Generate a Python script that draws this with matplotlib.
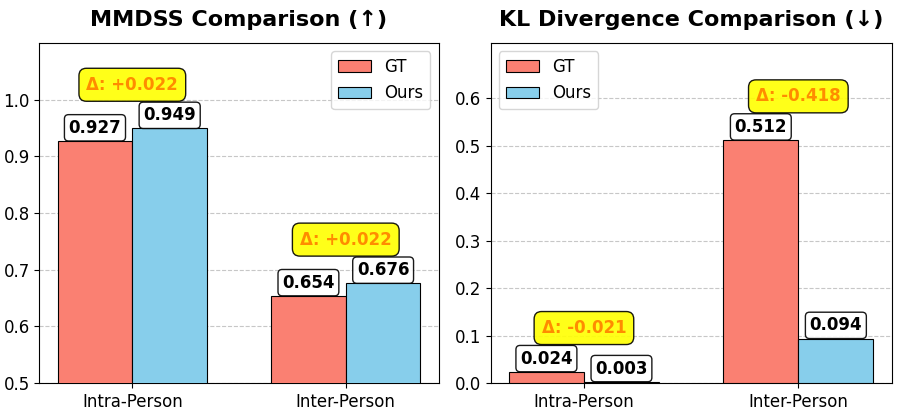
import matplotlib
matplotlib.use("Agg")
import matplotlib.pyplot as plt
import numpy as np

categories = ["Intra-Person", "Inter-Person"]
series_names = ["GT", "Ours"]
mmdss_gt = [0.927, 0.654]
mmdss_ours = [0.949, 0.676]
kl_gt = [0.024, 0.512]
kl_ours = [0.003, 0.094]
titles = ["MMDSS Comparison (↑)", "KL Divergence Comparison (↓)"]

colors = ["salmon", "skyblue"]

fig = plt.figure(figsize=(8.97, 4.12), dpi=100)
ax1 = fig.add_axes([0.044, 0.070, 0.445, 0.826])
ax2 = fig.add_axes([0.547, 0.070, 0.447, 0.826])

x = np.arange(len(categories))
w = 0.35

def draw(ax, gt, ours, title, ylim, yticks, legend_loc):
    b1 = ax.bar(x - w/2, gt, w, color=colors[0], edgecolor="black", linewidth=0.8, label=series_names[0], zorder=3)
    b2 = ax.bar(x + w/2, ours, w, color=colors[1], edgecolor="black", linewidth=0.8, label=series_names[1], zorder=3)
    ax.set_ylim(*ylim)
    ax.set_yticks(yticks)
    ax.set_xticks(x)
    ax.set_xticklabels(categories, fontsize=12)
    ax.tick_params(axis="y", labelsize=12)
    ax.set_title(title, fontsize=16, fontweight="bold", pad=12)
    ax.grid(axis="y", linestyle="--", alpha=0.7, zorder=0)
    ax.set_axisbelow(True)
    for bars, vals in ((b1, gt), (b2, ours)):
        for bar, v in zip(bars, vals):
            ax.annotate(f"{v:.3f}", xy=(bar.get_x() + bar.get_width()/2, v),
                        xytext=(0, 3), textcoords="offset points",
                        ha="center", va="bottom", fontsize=12, fontweight="bold",
                        bbox=dict(boxstyle="round,pad=0.25", facecolor="white", edgecolor="black", alpha=0.9),
                        zorder=5)
    for i in range(len(categories)):
        d = ours[i] - gt[i]
        top = max(gt[i], ours[i])
        ax.annotate(f"Δ: {d:+.3f}", xy=(x[i], top),
                    xytext=(0, 25), textcoords="offset points",
                    ha="center", va="bottom", fontsize=12, fontweight="bold",
                    color="darkorange",
                    bbox=dict(boxstyle="round,pad=0.45", facecolor="yellow", edgecolor="black", alpha=0.9),
                    zorder=5)
    ax.legend(fontsize=12, loc=legend_loc)

draw(ax1, mmdss_gt, mmdss_ours, titles[0], (0.5, 1.1), [0.5, 0.6, 0.7, 0.8, 0.9, 1.0], "upper right")
draw(ax2, kl_gt, kl_ours, titles[1], (0.0, 0.512 * 1.4), [0.0, 0.1, 0.2, 0.3, 0.4, 0.5, 0.6], "upper left")

fig.savefig("out.png", dpi=100)
